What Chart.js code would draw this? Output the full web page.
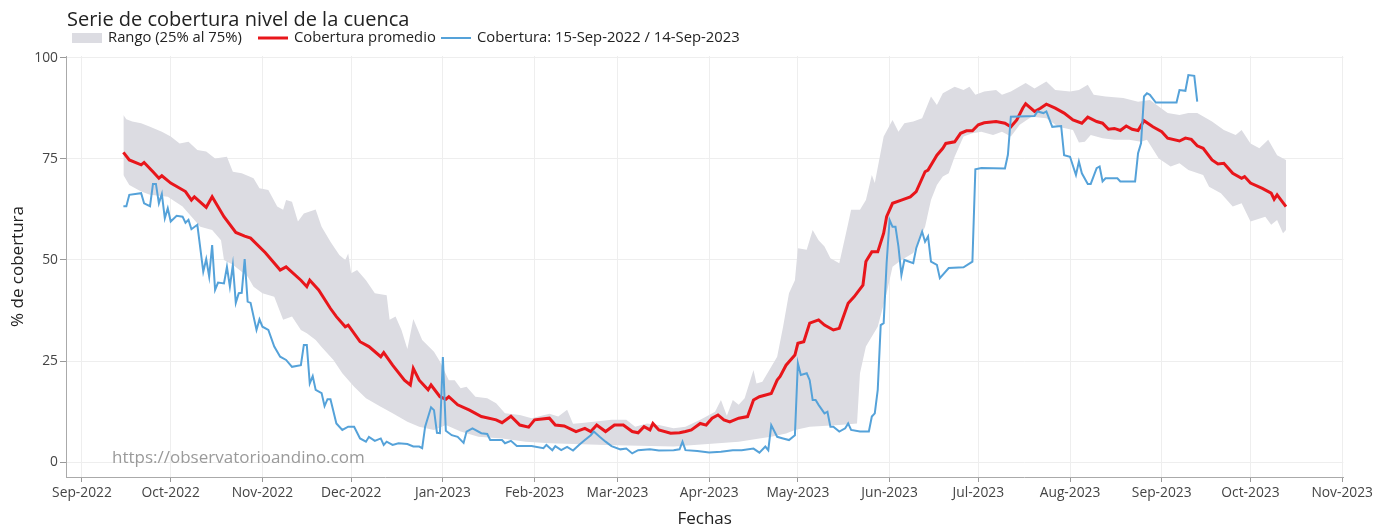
<!DOCTYPE html>
<html>
<head>
<meta charset="utf-8">
<script src="https://cdn.jsdelivr.net/npm/chart.js"></script>
<style>
  body { margin: 0; background: #fff; }
</style>
</head>
<body>
<canvas id="grafico" width="1376" height="526"></canvas>
<script>
// serie promedio (linea roja)
const promedioFechas = ['2022-09-15','2022-09-17','2022-09-21','2022-09-22','2022-09-25','2022-09-27','2022-09-28','2022-10-01','2022-10-06','2022-10-08','2022-10-09','2022-10-13','2022-10-15','2022-10-19','2022-10-23','2022-10-26','2022-10-28','2022-11-02','2022-11-07','2022-11-09','2022-11-14','2022-11-16','2022-11-17','2022-11-20','2022-11-24','2022-11-26','2022-11-29','2022-11-30','2022-12-04','2022-12-07','2022-12-11','2022-12-12','2022-12-15','2022-12-19','2022-12-21','2022-12-22','2022-12-24','2022-12-27','2022-12-28','2022-12-31','2023-01-02','2023-01-03','2023-01-06','2023-01-10','2023-01-14','2023-01-19','2023-01-21','2023-01-24','2023-01-27','2023-01-30','2023-02-01','2023-02-06','2023-02-08','2023-02-11','2023-02-15','2023-02-18','2023-02-20','2023-02-22','2023-02-25','2023-02-28','2023-03-03','2023-03-06','2023-03-08','2023-03-10','2023-03-12','2023-03-13','2023-03-15','2023-03-19','2023-03-22','2023-03-24','2023-03-26','2023-03-29','2023-03-31','2023-04-02','2023-04-04','2023-04-06','2023-04-08','2023-04-11','2023-04-14','2023-04-16','2023-04-18','2023-04-22','2023-04-24','2023-04-25','2023-04-27','2023-04-30','2023-05-01','2023-05-03','2023-05-05','2023-05-08','2023-05-10','2023-05-13','2023-05-15','2023-05-18','2023-05-20','2023-05-23','2023-05-24','2023-05-26','2023-05-28','2023-05-30','2023-05-31','2023-06-02','2023-06-05','2023-06-08','2023-06-10','2023-06-13','2023-06-14','2023-06-17','2023-06-19','2023-06-20','2023-06-23','2023-06-25','2023-06-27','2023-06-29','2023-07-01','2023-07-03','2023-07-07','2023-07-10','2023-07-12','2023-07-14','2023-07-16','2023-07-17','2023-07-20','2023-07-22','2023-07-24','2023-07-27','2023-07-30','2023-08-02','2023-08-05','2023-08-07','2023-08-10','2023-08-12','2023-08-14','2023-08-16','2023-08-18','2023-08-20','2023-08-22','2023-08-24','2023-08-26','2023-08-29','2023-09-01','2023-09-03','2023-09-07','2023-09-09','2023-09-11','2023-09-13','2023-09-15','2023-09-18','2023-09-20','2023-09-22','2023-09-25','2023-09-28','2023-09-29','2023-10-01','2023-10-05','2023-10-08','2023-10-09','2023-10-10','2023-10-13'];
const promedioValores = [76.6,74.7,73.5,74.1,71.8,70.2,70.8,69.0,66.9,64.8,65.6,63.0,65.6,60.7,56.8,55.9,55.4,51.8,47.5,48.3,45.0,43.4,45.0,42.6,38.0,36.0,33.5,33.9,29.8,28.6,26.1,27.1,24.0,20.3,19.1,23.2,20.3,17.9,19.1,16.2,15.6,16.2,14.2,12.9,11.3,10.5,9.8,11.4,9.2,8.7,10.5,10.9,9.2,9.0,7.6,8.4,7.6,9.2,7.6,9.2,9.2,7.6,7.3,8.8,8.0,9.6,8.0,7.2,7.3,7.6,8.0,9.6,9.2,10.9,11.7,10.5,10.0,10.9,11.3,15.4,16.2,17.0,20.3,21.2,24.0,26.5,29.4,29.8,34.4,35.2,33.9,32.7,33.1,39.3,40.9,43.8,49.6,52.0,52.0,56.6,60.7,64.0,64.8,65.6,66.9,71.8,72.2,75.9,77.6,78.8,79.2,81.3,81.9,81.9,83.4,83.9,84.2,83.8,82.9,84.6,87.5,88.6,86.7,87.5,88.5,87.5,86.3,84.6,83.8,85.3,84.2,83.8,82.3,82.5,82.0,83.1,82.3,82.0,84.4,82.9,81.7,80.1,79.4,80.1,79.8,78.2,77.6,74.7,73.7,73.9,71.4,70.2,70.6,69.0,67.7,66.5,65.0,66.1,63.2];

// rango 25% - 75% (banda gris)
const rangoAltoFechas = ['2022-09-15','2022-09-16','2022-09-18','2022-09-21','2022-09-24','2022-09-28','2022-10-01','2022-10-04','2022-10-07','2022-10-10','2022-10-13','2022-10-16','2022-10-20','2022-10-22','2022-10-25','2022-10-29','2022-10-31','2022-11-03','2022-11-06','2022-11-08','2022-11-09','2022-11-11','2022-11-13','2022-11-15','2022-11-19','2022-11-21','2022-11-24','2022-11-27','2022-11-29','2022-11-30','2022-12-01','2022-12-03','2022-12-06','2022-12-09','2022-12-13','2022-12-14','2022-12-16','2022-12-18','2022-12-20','2022-12-22','2022-12-25','2022-12-29','2022-12-31','2023-01-03','2023-01-05','2023-01-07','2023-01-09','2023-01-12','2023-01-16','2023-01-19','2023-01-22','2023-01-27','2023-01-31','2023-02-06','2023-02-09','2023-02-12','2023-02-14','2023-02-17','2023-02-21','2023-02-27','2023-03-04','2023-03-07','2023-03-11','2023-03-15','2023-03-20','2023-03-24','2023-03-29','2023-04-01','2023-04-03','2023-04-05','2023-04-07','2023-04-09','2023-04-11','2023-04-13','2023-04-16','2023-04-17','2023-04-19','2023-04-21','2023-04-24','2023-04-26','2023-04-28','2023-04-30','2023-05-01','2023-05-04','2023-05-06','2023-05-08','2023-05-10','2023-05-12','2023-05-15','2023-05-18','2023-05-19','2023-05-22','2023-05-24','2023-05-26','2023-05-27','2023-05-30','2023-06-02','2023-06-04','2023-06-06','2023-06-09','2023-06-12','2023-06-15','2023-06-17','2023-06-19','2023-06-23','2023-06-26','2023-06-28','2023-06-30','2023-07-03','2023-07-07','2023-07-09','2023-07-12','2023-07-17','2023-07-20','2023-07-24','2023-07-27','2023-08-01','2023-08-04','2023-08-07','2023-08-09','2023-08-13','2023-08-19','2023-08-24','2023-08-28','2023-08-31','2023-09-03','2023-09-07','2023-09-10','2023-09-13','2023-09-18','2023-09-22','2023-09-26','2023-09-28','2023-10-01','2023-10-04','2023-10-07','2023-10-10','2023-10-13'];
const rangoAltoValores = [85.8,84.8,84.2,83.8,82.9,81.7,80.5,78.8,79.2,77.2,76.8,75.1,75.5,71.8,71.4,70.2,67.7,67.3,63.2,62.4,64.8,64.4,59.5,61.5,62.5,58.2,54.5,51.2,50.0,51.6,46.7,47.5,45.0,41.8,41.3,35.2,36.0,32.7,28.0,35.4,30.2,27.3,24.9,20.3,20.3,18.3,18.7,16.2,15.8,14.6,12.1,11.7,10.9,12.0,11.3,13.0,9.5,9.7,10.0,10.5,10.5,8.8,9.6,9.2,8.4,8.8,10.5,11.7,12.5,15.4,11.5,15.4,14.2,15.8,22.8,19.5,19.9,22.4,26.1,33.5,41.8,45.0,52.9,52.5,57.4,54.9,53.3,50.4,49.2,59.0,62.4,62.4,64.8,71.0,69.0,80.5,84.6,81.7,83.8,84.2,85.0,90.4,88.3,91.2,92.8,92.0,92.8,90.8,91.6,92.0,90.8,91.6,93.7,92.4,94.1,92.0,91.6,92.0,93.3,90.8,90.4,90.0,89.1,89.5,87.9,86.3,85.8,86.3,86.3,84.2,82.1,80.9,82.1,78.8,77.6,79.7,75.9,74.7];

const rangoBajoFechas = ['2022-09-15','2022-09-17','2022-09-21','2022-09-24','2022-09-30','2022-10-05','2022-10-11','2022-10-15','2022-10-18','2022-10-19','2022-10-22','2022-10-27','2022-10-29','2022-11-01','2022-11-05','2022-11-08','2022-11-11','2022-11-14','2022-11-16','2022-11-19','2022-11-21','2022-11-25','2022-11-28','2022-12-02','2022-12-06','2022-12-11','2022-12-15','2022-12-20','2022-12-24','2022-12-29','2023-01-02','2023-01-07','2023-01-13','2023-01-21','2023-01-29','2023-02-06','2023-02-25','2023-03-20','2023-04-11','2023-04-18','2023-04-22','2023-04-27','2023-04-30','2023-05-05','2023-05-15','2023-05-21','2023-05-22','2023-05-24','2023-05-28','2023-05-31','2023-06-02','2023-06-05','2023-06-09','2023-06-13','2023-06-15','2023-06-17','2023-06-19','2023-06-21','2023-06-23','2023-06-26','2023-06-29','2023-07-02','2023-07-06','2023-07-09','2023-07-12','2023-07-15','2023-07-19','2023-07-24','2023-07-28','2023-08-02','2023-08-04','2023-08-06','2023-08-08','2023-08-12','2023-08-16','2023-08-21','2023-08-25','2023-08-27','2023-08-31','2023-09-04','2023-09-07','2023-09-10','2023-09-15','2023-09-17','2023-09-21','2023-09-25','2023-09-28','2023-10-01','2023-10-06','2023-10-08','2023-10-10','2023-10-12','2023-10-13'];
const rangoBajoValores = [71.0,68.5,66.9,66.1,65.6,63.2,58.2,57.4,54.9,50.0,48.8,45.9,43.4,41.8,40.9,35.2,36.0,32.7,31.9,30.2,28.5,25.3,22.0,18.7,15.8,13.7,12.1,10.0,8.8,8.0,9.2,7.6,6.3,5.9,5.1,4.7,4.3,3.9,5.1,5.9,6.3,7.1,8.0,8.8,9.2,9.6,22.0,28.6,33.5,41.8,48.3,50.0,51.7,58.2,64.8,68.5,70.6,71.4,75.5,80.5,81.3,81.7,80.9,81.7,80.5,83.4,85.4,85.0,82.9,82.1,79.0,79.2,80.9,80.1,79.7,79.7,79.2,79.7,75.1,73.1,73.9,72.2,71.0,68.1,66.5,63.2,64.0,59.5,60.7,58.7,59.9,56.6,57.4];

// cobertura del periodo (linea azul)
const coberturaFechas = ['2022-09-15','2022-09-16','2022-09-17','2022-09-21','2022-09-22','2022-09-24','2022-09-25','2022-09-26','2022-09-27','2022-09-28','2022-09-29','2022-09-30','2022-10-01','2022-10-03','2022-10-05','2022-10-06','2022-10-07','2022-10-08','2022-10-10','2022-10-12','2022-10-13','2022-10-14','2022-10-15','2022-10-16','2022-10-17','2022-10-19','2022-10-20','2022-10-21','2022-10-22','2022-10-23','2022-10-24','2022-10-25','2022-10-26','2022-10-27','2022-10-28','2022-10-30','2022-10-31','2022-11-01','2022-11-03','2022-11-05','2022-11-07','2022-11-09','2022-11-11','2022-11-14','2022-11-15','2022-11-16','2022-11-17','2022-11-18','2022-11-19','2022-11-21','2022-11-22','2022-11-23','2022-11-24','2022-11-26','2022-11-28','2022-11-30','2022-12-02','2022-12-04','2022-12-06','2022-12-07','2022-12-09','2022-12-11','2022-12-12','2022-12-13','2022-12-15','2022-12-17','2022-12-20','2022-12-22','2022-12-24','2022-12-25','2022-12-26','2022-12-28','2022-12-29','2022-12-30','2022-12-31','2023-01-01','2023-01-02','2023-01-04','2023-01-06','2023-01-08','2023-01-09','2023-01-11','2023-01-14','2023-01-16','2023-01-17','2023-01-21','2023-01-22','2023-01-24','2023-01-26','2023-01-31','2023-02-04','2023-02-05','2023-02-07','2023-02-08','2023-02-10','2023-02-12','2023-02-14','2023-02-16','2023-02-18','2023-02-20','2023-02-21','2023-02-23','2023-02-25','2023-02-27','2023-03-02','2023-03-04','2023-03-06','2023-03-08','2023-03-12','2023-03-15','2023-03-20','2023-03-22','2023-03-23','2023-03-24','2023-03-28','2023-04-01','2023-04-05','2023-04-09','2023-04-12','2023-04-16','2023-04-18','2023-04-20','2023-04-21','2023-04-22','2023-04-24','2023-04-26','2023-04-28','2023-04-30','2023-05-01','2023-05-02','2023-05-04','2023-05-05','2023-05-06','2023-05-07','2023-05-08','2023-05-10','2023-05-11','2023-05-12','2023-05-13','2023-05-15','2023-05-17','2023-05-18','2023-05-19','2023-05-22','2023-05-25','2023-05-26','2023-05-27','2023-05-28','2023-05-29','2023-05-30','2023-05-31','2023-06-01','2023-06-02','2023-06-03','2023-06-04','2023-06-05','2023-06-06','2023-06-09','2023-06-10','2023-06-12','2023-06-13','2023-06-14','2023-06-15','2023-06-17','2023-06-18','2023-06-21','2023-06-26','2023-06-29','2023-06-30','2023-07-02','2023-07-10','2023-07-11','2023-07-12','2023-07-20','2023-07-21','2023-07-23','2023-07-24','2023-07-26','2023-07-29','2023-07-30','2023-08-01','2023-08-03','2023-08-04','2023-08-05','2023-08-07','2023-08-08','2023-08-10','2023-08-11','2023-08-12','2023-08-13','2023-08-17','2023-08-18','2023-08-23','2023-08-24','2023-08-25','2023-08-26','2023-08-27','2023-08-28','2023-08-30','2023-09-06','2023-09-07','2023-09-09','2023-09-10','2023-09-12','2023-09-13'];
const coberturaValores = [63.3,63.3,66.1,66.5,64.0,63.3,68.8,68.8,64.0,66.3,60.3,62.8,59.5,60.9,60.7,59.2,59.9,57.6,58.7,47.1,50.2,45.9,53.7,42.6,44.4,44.2,48.3,43.4,48.8,39.4,41.8,41.9,50.2,39.7,39.4,32.7,35.3,33.5,32.7,28.6,26.1,25.3,23.6,24.0,29.0,29.0,19.5,21.3,17.9,17.1,13.9,15.6,15.6,9.6,8.0,8.8,8.8,5.9,5.1,6.3,5.3,5.9,4.3,5.1,4.3,4.7,4.5,3.9,3.9,3.5,8.8,13.6,12.9,7.3,7.2,26.0,7.8,6.7,6.3,4.8,7.6,8.4,7.2,7.0,5.5,5.5,4.7,5.3,4.0,4.0,3.5,4.3,3.0,4.0,3.0,3.8,2.9,4.3,5.5,6.7,7.6,6.3,5.1,4.0,3.2,3.4,2.2,3.0,3.2,2.9,3.0,3.2,5.1,3.0,2.8,2.4,2.6,3.0,3.0,3.4,2.4,3.9,3.0,9.2,6.3,5.9,5.5,6.7,24.5,21.6,22.0,20.3,15.4,15.4,14.2,12.1,12.5,8.8,8.8,7.6,8.4,9.6,8.0,7.6,7.6,11.3,12.1,17.9,33.9,34.4,49.2,59.9,58.2,58.2,53.3,46.3,50.0,49.2,52.9,57.0,54.5,55.8,49.6,48.8,45.5,48.0,48.2,49.6,72.4,72.7,72.6,76.0,85.4,85.6,86.7,86.3,86.7,82.9,83.1,75.9,75.5,71.0,74.3,71.4,68.8,68.8,72.7,73.1,69.4,70.2,70.2,69.4,69.4,76.4,78.8,90.4,91.2,90.8,88.9,88.9,92.0,91.8,95.7,95.5,89.1];

// ejes
const marcasY = [0, 25, 50, 75, 100];
const meses = ['Jan','Feb','Mar','Apr','May','Jun','Jul','Aug','Sep','Oct','Nov','Dec'];
const marcasX = ['2022-09-01','2022-10-01','2022-11-01','2022-12-01','2023-01-01','2023-02-01','2023-03-01','2023-04-01','2023-05-01','2023-06-01','2023-07-01','2023-08-01','2023-09-01','2023-10-01','2023-11-01'];

const titulo = 'Serie de cobertura nivel de la cuenca';
const marcaAgua = 'https://observatorioandino.com';

const DIA = 86400000;
const fuente = '"Open Sans", "Liberation Sans", sans-serif';

function puntos(fechas, valores) {
    return fechas.map((f, i) => ({ x: Date.parse(f), y: valores[i] }));
}

const colorRango = '#dcdce2';
const colorProm = '#e8161b';
const colorCob = '#55a2d9';

// titulo, leyenda y marca de agua dibujados a mano
const extras = {
    id: 'extras',
    beforeDatasetsDraw(chart) {
        const ctx = chart.ctx;
        ctx.save();
        ctx.font = '17px ' + fuente;
        ctx.fillStyle = '#9a9a9a';
        ctx.textBaseline = 'middle';
        ctx.fillText(marcaAgua, 112, 458);
        ctx.restore();
    },
    afterDraw(chart) {
        const ctx = chart.ctx;
        ctx.save();
        ctx.textBaseline = 'middle';
        ctx.fillStyle = '#222';
        ctx.font = '20px ' + fuente;
        ctx.fillText(titulo, 67, 20);

        const y = 38;
        ctx.font = '14.8px ' + fuente;
        const items = [
            { x: 72, texto: chart.data.datasets[3].label, tipo: 'caja', color: colorRango },
            { x: 258, texto: chart.data.datasets[1].label, tipo: 'linea', color: colorProm, ancho: 3 },
            { x: 441, texto: chart.data.datasets[0].label, tipo: 'linea', color: colorCob, ancho: 2 }
        ];
        items.forEach(it => {
            if (it.tipo === 'caja') {
                ctx.fillStyle = it.color;
                ctx.fillRect(it.x, y - 5, 30, 10);
            } else {
                ctx.strokeStyle = it.color;
                ctx.lineWidth = it.ancho;
                ctx.beginPath();
                ctx.moveTo(it.x, y);
                ctx.lineTo(it.x + 30, y);
                ctx.stroke();
            }
            ctx.fillStyle = '#222';
            ctx.fillText(it.texto, it.x + 36, y);
        });
        ctx.restore();
    }
};

const ctx = document.getElementById('grafico');

new Chart(ctx, {
    type: 'line',
    data: {
        datasets: [
            {
                label: 'Cobertura: 15-Sep-2022 / 14-Sep-2023',
                data: puntos(coberturaFechas, coberturaValores),
                borderColor: colorCob,
                borderWidth: 2,
                fill: false
            },
            {
                label: 'Cobertura promedio',
                data: puntos(promedioFechas, promedioValores),
                borderColor: colorProm,
                borderWidth: 3,
                fill: false
            },
            {
                label: 'Rango bajo',
                data: puntos(rangoBajoFechas, rangoBajoValores),
                borderWidth: 0,
                borderColor: 'rgba(0,0,0,0)',
                fill: false
            },
            {
                label: 'Rango (25% al 75%)',
                data: puntos(rangoAltoFechas, rangoAltoValores),
                borderWidth: 0,
                borderColor: 'rgba(0,0,0,0)',
                backgroundColor: colorRango,
                fill: 2
            }
        ]
    },
    options: {
        responsive: false,
        animation: false,
        devicePixelRatio: 1,
        layout: { padding: { left: 0, right: 31, top: 56, bottom: 0 } },
        elements: {
            point: { radius: 0, hoverRadius: 0 },
            line: { tension: 0 }
        },
        plugins: {
            legend: { display: false },
            tooltip: { enabled: false },
            filler: { propagate: false }
        },
        scales: {
            x: {
                type: 'linear',
                min: Date.parse('2022-09-01') - 5.4 * DIA,
                max: Date.parse('2023-11-01') + 0.4 * DIA,
                afterBuildTicks: (scale) => {
                    scale.ticks = marcasX.map(m => ({ value: Date.parse(m) }));
                },
                afterFit: (scale) => { scale.height = 49; },
                grid: { color: '#eeeeee', tickColor: '#999', tickLength: 5 },
                border: { color: '#aaa', width: 1 },
                ticks: {
                    color: '#444',
                    padding: 3,
                    maxRotation: 0,
                    autoSkip: false,
                    font: { family: fuente, size: 13.8 },
                    callback: (v) => {
                        const d = new Date(v);
                        return meses[d.getUTCMonth()] + '-' + d.getUTCFullYear();
                    }
                },
                title: {
                    display: true,
                    text: 'Fechas',
                    color: '#222',
                    font: { family: fuente, size: 17, lineHeight: 0.8 },
                    padding: { top: 0, bottom: 0 }
                }
            },
            y: {
                min: -3.63,
                max: 100.4,
                afterBuildTicks: (scale) => {
                    scale.ticks = marcasY.map(v => ({ value: v }));
                },
                afterFit: (scale) => { scale.width = 66; },
                grid: { color: '#eeeeee', tickColor: '#999', tickLength: 6 },
                border: { color: '#aaa', width: 1 },
                ticks: {
                    color: '#444',
                    padding: 2,
                    font: { family: fuente, size: 13.8 }
                },
                title: {
                    display: true,
                    text: '% de cobertura',
                    color: '#222',
                    font: { family: fuente, size: 17, lineHeight: 1 },
                    padding: { top: 10, bottom: 0 }
                }
            }
        }
    },
    plugins: [extras]
});
</script>
</body>
</html>
